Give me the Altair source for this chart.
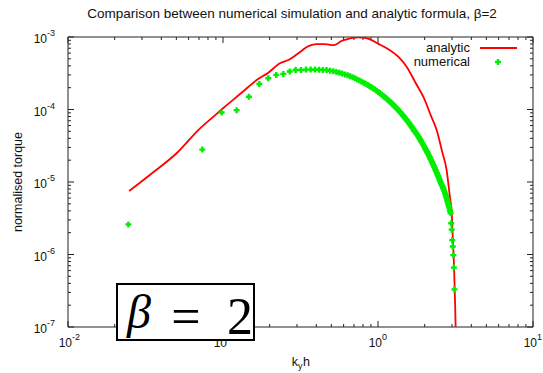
import altair as alt
import pandas as pd

# Analytic torque curve (k_y h, normalised torque)
k_analytic = [0.0248, 0.035, 0.0502, 0.0711, 0.085, 0.1, 0.13, 0.165, 0.196, 0.233,
              0.27, 0.284, 0.32, 0.347, 0.375, 0.403, 0.45, 0.49, 0.52, 0.542,
              0.58, 0.628, 0.69, 0.746, 0.82, 0.888, 1.0, 1.14, 1.35, 1.53,
              1.75, 1.96, 2.2, 2.39, 2.6, 2.77, 2.9, 2.99, 3.05, 3.09,
              3.13, 3.17, 3.2]
torque_analytic = [7.5e-6, 1.33e-5, 2.49e-5, 5.5e-5, 7.66e-5, 1.04e-4, 1.66e-4, 2.55e-4, 3.22e-4, 4.34e-4,
                   4.92e-4, 5.3e-4, 6.4e-4, 7.3e-4, 7.8e-4, 8.0e-4, 8.0e-4, 7.8e-4, 7.75e-4, 8.0e-4,
                   8.8e-4, 9.3e-4, 9.75e-4, 9.9e-4, 9.75e-4, 9.3e-4, 8.1e-4, 6.98e-4, 5.35e-4, 3.9e-4,
                   2.32e-4, 1.5e-4, 8.1e-5, 5.2e-5, 2.56e-5, 1.47e-5, 6.6e-6, 3.7e-6, 1.41e-6, 7.6e-7,
                   2.94e-7, 1.0e-7, 3.0e-8]

# Numerical simulation results
k_numerical = [0.0245, 0.0735, 0.098, 0.1225, 0.147, 0.1715, 0.196, 0.2205, 0.245, 0.2695,
               0.294, 0.3185, 0.343, 0.3675, 0.392, 0.4165, 0.441, 0.4655, 0.49, 0.5145,
               0.539, 0.5635, 0.588, 0.6125, 0.637, 0.6615, 0.686, 0.7105, 0.735, 0.7595,
               0.784, 0.8085, 0.833, 0.8575, 0.882, 0.9065, 0.931, 0.9555, 0.98, 1.0045,
               1.029, 1.0535, 1.078, 1.1025, 1.127, 1.1515, 1.176, 1.2005, 1.225, 1.2495,
               1.274, 1.2985, 1.323, 1.3475, 1.372, 1.3965, 1.421, 1.4455, 1.47, 1.4945,
               1.519, 1.5435, 1.568, 1.5925, 1.617, 1.6415, 1.666, 1.6905, 1.715, 1.7395,
               1.764, 1.7885, 1.813, 1.8375, 1.862, 1.8865, 1.911, 1.9355, 1.96, 1.9845,
               2.009, 2.0335, 2.058, 2.0825, 2.107, 2.1315, 2.156, 2.1805, 2.205, 2.2295,
               2.254, 2.2785, 2.303, 2.3275, 2.352, 2.3765, 2.401, 2.4255, 2.45, 2.4745,
               2.499, 2.5235, 2.548, 2.5725, 2.597, 2.6215, 2.646, 2.6705, 2.695, 2.7195,
               2.744, 2.7685, 2.793, 2.8175, 2.842, 2.8665, 2.891, 2.9155, 2.94, 2.9645,
               2.989, 3.0135, 3.038, 3.0625, 3.087, 3.1115]
torque_numerical = [2.6e-6, 2.8e-5, 9.1e-5, 9.8e-5, 1.5e-4, 2.25e-4, 2.7e-4, 3.0e-4, 3.1e-4, 3.35e-4,
                    3.5e-4, 3.5e-4, 3.55e-4, 3.55e-4, 3.55e-4, 3.54e-4, 3.52e-4, 3.5e-4, 3.43e-4, 3.38e-4,
                    3.3e-4, 3.22e-4, 3.13e-4, 3.05e-4, 2.96e-4, 2.87e-4, 2.78e-4, 2.69e-4, 2.6e-4, 2.51e-4,
                    2.42e-4, 2.34e-4, 2.26e-4, 2.18e-4, 2.1e-4, 2.02e-4, 1.95e-4, 1.88e-4, 1.81e-4, 1.74e-4,
                    1.67e-4, 1.61e-4, 1.55e-4, 1.49e-4, 1.43e-4, 1.37e-4, 1.32e-4, 1.27e-4, 1.22e-4, 1.17e-4,
                    1.12e-4, 1.07e-4, 1.03e-4, 9.9e-5, 9.5e-5, 9.1e-5, 8.7e-5, 8.35e-5, 8.0e-5, 7.65e-5,
                    7.3e-5, 7.0e-5, 6.7e-5, 6.4e-5, 6.1e-5, 5.85e-5, 5.6e-5, 5.35e-5, 5.1e-5, 4.9e-5,
                    4.7e-5, 4.5e-5, 4.3e-5, 4.1e-5, 3.92e-5, 3.74e-5, 3.57e-5, 3.41e-5, 3.25e-5, 3.1e-5,
                    2.95e-5, 2.81e-5, 2.68e-5, 2.55e-5, 2.43e-5, 2.31e-5, 2.2e-5, 2.09e-5, 1.99e-5, 1.89e-5,
                    1.8e-5, 1.71e-5, 1.62e-5, 1.54e-5, 1.46e-5, 1.39e-5, 1.32e-5, 1.25e-5, 1.19e-5, 1.13e-5,
                    1.07e-5, 1.01e-5, 9.6e-6, 9.2e-6, 8.8e-6, 8.4e-6, 8.0e-6, 7.6e-6, 7.2e-6, 6.8e-6,
                    6.4e-6, 6.0e-6, 5.6e-6, 5.25e-6, 4.9e-6, 4.6e-6, 4.3e-6, 4.0e-6, 3.7e-6, 2.7e-6,
                    2.2e-6, 1.58e-6, 1.29e-6, 9.8e-7, 6.6e-7, 3.3e-7]

series_names = ["analytic", "numerical"]

# Axis ticks and labels (decades with minor ticks at 2..9)
x_major = [0.01, 0.1, 1.0, 10.0]
x_exponents = ["-2", "-1", "0", "1"]
y_major = [1e-3, 1e-4, 1e-5, 1e-6, 1e-7]
y_exponents = ["-3", "-4", "-5", "-6", "-7"]
x_minor = [m * d for d in [0.01, 0.1, 1.0] for m in range(2, 10)]
y_minor = [m * d for d in [1e-7, 1e-6, 1e-5, 1e-4] for m in range(2, 10)]

W, H = 465, 290
FONT = "Liberation Sans"
RED = "#ff0000"
GREEN = "#00ee00"

xs = alt.Scale(type="log", domain=[0.01, 10])
ys = alt.Scale(type="log", domain=[1e-7, 1e-3])


def X(field):
    return alt.X(f"{field}:Q", scale=xs, axis=None)


def Y(field):
    return alt.Y(f"{field}:Q", scale=ys, axis=None)


df_a = pd.DataFrame({"k": k_analytic, "torque": torque_analytic})
df_n = pd.DataFrame({"k": k_numerical, "torque": torque_numerical})
df_xmaj = pd.DataFrame({"v": x_major, "base": ["10"] * len(x_major), "exp": x_exponents})
df_ymaj = pd.DataFrame({"v": y_major, "base": ["10"] * len(y_major), "exp": y_exponents})
df_xmin = pd.DataFrame({"v": x_minor})
df_ymin = pd.DataFrame({"v": y_minor})
one = pd.DataFrame({"a": [0]})

layers = []

# inward ticks on all four sides
for df, ln in [(df_xmaj, 6), (df_xmin, 3)]:
    layers.append(alt.Chart(df).mark_rule(color="#222", strokeWidth=1).encode(
        x=X("v"), y=alt.value(H), y2=alt.value(H - ln)))
    layers.append(alt.Chart(df).mark_rule(color="#222", strokeWidth=1).encode(
        x=X("v"), y=alt.value(0), y2=alt.value(ln)))
for df, ln in [(df_ymaj, 6), (df_ymin, 3)]:
    layers.append(alt.Chart(df).mark_rule(color="#222", strokeWidth=1).encode(
        y=Y("v"), x=alt.value(0), x2=alt.value(ln)))
    layers.append(alt.Chart(df).mark_rule(color="#222", strokeWidth=1).encode(
        y=Y("v"), x=alt.value(W), x2=alt.value(W - ln)))

# plot frame
layers.append(alt.Chart(one).mark_rect(fillOpacity=0, stroke="#222", strokeWidth=1).encode(
    x=alt.value(0), x2=alt.value(W), y=alt.value(0), y2=alt.value(H)))

# tick labels: 10 with superscript exponent
layers.append(alt.Chart(df_xmaj).mark_text(align="right", baseline="middle", fontSize=12, font=FONT, dx=4, color="#111").encode(
    x=X("v"), y=alt.value(H + 16), text="base:N"))
layers.append(alt.Chart(df_xmaj).mark_text(align="left", baseline="middle", fontSize=9, font=FONT, dx=4, color="#111").encode(
    x=X("v"), y=alt.value(H + 10), text="exp:N"))
layers.append(alt.Chart(df_ymaj).mark_text(align="right", baseline="middle", fontSize=12, font=FONT, dy=2, color="#111").encode(
    y=Y("v"), x=alt.value(-21), text="base:N"))
layers.append(alt.Chart(df_ymaj).mark_text(align="left", baseline="middle", fontSize=9, font=FONT, dy=-4, color="#111").encode(
    y=Y("v"), x=alt.value(-21), text="exp:N"))

# data
layers.append(alt.Chart(df_a).mark_line(color=RED, strokeWidth=1.8, clip=True, interpolate="monotone").encode(
    x=X("k"), y=Y("torque")))
layers.append(alt.Chart(df_n).mark_point(shape="cross", filled=True, size=36, color=GREEN, opacity=1).encode(
    x=X("k"), y=Y("torque")))

# key
layers.append(alt.Chart(one).mark_text(align="right", baseline="middle", fontSize=13, font=FONT, color="#111",
                                       text=series_names[0]).encode(x=alt.value(402), y=alt.value(11)))
layers.append(alt.Chart(one).mark_text(align="right", baseline="middle", fontSize=13, font=FONT, color="#111",
                                       text=series_names[1]).encode(x=alt.value(402), y=alt.value(25)))
layers.append(alt.Chart(one).mark_rule(color=RED, strokeWidth=1.8).encode(
    x=alt.value(412), x2=alt.value(449), y=alt.value(11)))
layers.append(alt.Chart(one).mark_point(shape="cross", filled=True, size=36, color=GREEN, opacity=1).encode(
    x=alt.value(430), y=alt.value(25)))

# titles
layers.append(alt.Chart(one).mark_text(align="center", baseline="middle", fontSize=13.5, font=FONT, color="#111",
                                       text="Comparison between numerical simulation and analytic formula, \u03b2=2").encode(
    x=alt.value(224), y=alt.value(-23)))
layers.append(alt.Chart(one).mark_text(align="center", baseline="middle", fontSize=12.5, font=FONT, color="#111",
                                       angle=270, text="normalised torque").encode(
    x=alt.value(-50), y=alt.value(145)))
layers.append(alt.Chart(one).mark_text(align="right", baseline="alphabetic", fontSize=12.5, font=FONT, color="#111",
                                       text="k").encode(x=alt.value(230), y=alt.value(H + 39)))
layers.append(alt.Chart(one).mark_text(align="left", baseline="alphabetic", fontSize=9, font=FONT, color="#111",
                                       text="y").encode(x=alt.value(230), y=alt.value(H + 42)))
layers.append(alt.Chart(one).mark_text(align="left", baseline="alphabetic", fontSize=12.5, font=FONT, color="#111",
                                       text="h").encode(x=alt.value(235), y=alt.value(H + 39)))

# beta annotation box
layers.append(alt.Chart(one).mark_rect(fill="white", stroke="black", strokeWidth=2).encode(
    x=alt.value(49), x2=alt.value(186), y=alt.value(247), y2=alt.value(303)))
layers.append(alt.Chart(one).mark_text(align="center", baseline="alphabetic", fontSize=48, font="Liberation Serif",
                                       fontStyle="italic", color="black", text="\u03b2").encode(
    x=alt.value(71), y=alt.value(291)))
layers.append(alt.Chart(one).mark_text(align="center", baseline="alphabetic", fontSize=52, font="Liberation Serif",
                                       color="black", text="=").encode(x=alt.value(118), y=alt.value(297)))
layers.append(alt.Chart(one).mark_text(align="center", baseline="alphabetic", fontSize=52, font="Liberation Serif",
                                       color="black", text="2").encode(x=alt.value(172), y=alt.value(297)))

chart = alt.layer(*layers).properties(
    width=W, height=H,
    autosize=alt.AutoSizeParams(type="none"),
    padding={"left": 68, "top": 37, "right": 10, "bottom": 46},
    background="white",
).configure_view(strokeWidth=0)

chart.save("out.html", embed_options={"renderer": "svg", "actions": False})
